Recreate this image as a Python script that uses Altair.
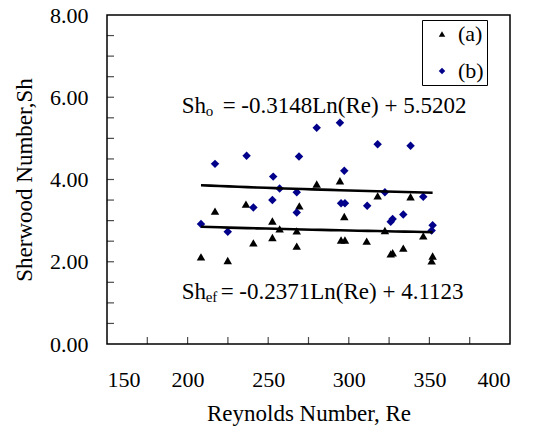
import altair as alt
import pandas as pd

# ---- data ----
re_a = [208.3, 217.0, 224.9, 236.2, 240.8, 252.6, 252.6, 257.1, 267.7, 267.7, 269.3, 280.1, 294.5,
        297.2, 295.2, 297.6, 311.1, 317.9, 322.4, 326.0, 327.2, 333.8, 338.3, 346.2, 352.0, 351.4]
sh_a = [2.12, 3.23, 2.03, 3.40, 2.46, 2.99, 2.59, 2.80, 2.75, 2.38, 3.36, 3.89, 3.97,
        3.10, 2.53, 2.53, 2.50, 3.60, 2.76, 2.19, 2.22, 2.33, 3.58, 2.63, 2.14, 2.02]
re_b = [208.3, 217.0, 224.9, 236.6, 240.8, 253.1, 252.6, 257.1, 267.7, 267.7, 269.1, 280.1, 294.5,
        297.2, 295.2, 297.6, 311.4, 317.9, 322.4, 326.0, 327.2, 333.8, 338.3, 346.2, 352.0, 351.4]
sh_b = [2.92, 4.38, 2.73, 4.58, 3.32, 4.07, 3.50, 3.78, 3.69, 3.20, 4.56, 5.26, 5.38,
        4.21, 3.42, 3.42, 3.36, 4.86, 3.69, 2.97, 3.04, 3.15, 4.82, 3.58, 2.89, 2.76]
series_names = ["(a)", "(b)"]

x_labels = [150, 200, 250, 300, 350, 400]
x_minor = [175, 200, 225, 250, 275, 300, 325, 350, 375]
y_labels = [0, 2, 4, 6, 8]
y_minor = [0.5, 1, 1.5, 2, 2.5, 3, 3.5, 4, 4.5, 5, 5.5, 6, 6.5, 7, 7.5]

eq_o = ["Sh", "o", "= -0.3148Ln(Re) + 5.5202"]
eq_ef = ["Sh", "ef", "= -0.2371Ln(Re) + 4.1123"]

df = pd.DataFrame({
    "Re": re_a + re_b,
    "Sh": sh_a + sh_b,
    "series": [series_names[0]] * len(re_a) + [series_names[1]] * len(re_b),
})
df_xt = pd.DataFrame({"Re": x_minor})
df_yt = pd.DataFrame({"Sh": y_minor})

FONT = "Liberation Serif"
xscale = alt.Scale(domain=[150, 400], nice=False, zero=False)
yscale = alt.Scale(domain=[0, 8], nice=False, zero=False)

XT = "Reynolds Number, Re"
YT = "Sherwood Number,Sh"

base = alt.Chart(df)

points = base.mark_point(filled=True, opacity=1, size=72, strokeWidth=0).encode(
    x=alt.X("Re:Q", scale=xscale, title=XT, axis=alt.Axis(
        values=x_labels, format="d", ticks=False, tickSize=0,
        domain=False, grid=False, labelPadding=25, titlePadding=12)),
    y=alt.Y("Sh:Q", scale=yscale, title=YT, axis=alt.Axis(
        values=y_labels, format=".2f", ticks=False, tickSize=0,
        domain=False, grid=False, labelPadding=19, titlePadding=13)),
    color=alt.Color("series:N", scale=alt.Scale(domain=series_names, range=["#000000", "#00008b"]),
                    legend=alt.Legend(title=None, orient="none", legendX=315, legendY=5,
                                      strokeColor="black", fillColor="white", padding=3,
                                      labelFontSize=22, symbolSize=42, rowPadding=15,
                                      symbolOffset=6, labelOffset=5,
                                      labelExpr="datum.label + ' \u2009'")),
    shape=alt.Shape("series:N", scale=alt.Scale(domain=series_names, range=["triangle-up", "diamond"])),
)

trend = base.transform_regression(
    "Re", "Sh", groupby=["series"], method="log"
).mark_line(color="black", strokeWidth=2.6).encode(
    x=alt.X("Re:Q", scale=xscale, title=XT),
    y=alt.Y("Sh:Q", scale=yscale, title=YT),
    detail="series:N",
)

xticks = alt.Chart(df_xt).mark_tick(orient="vertical", size=7, thickness=1.2, color="black",
                                    yOffset=-3.5).encode(
    x=alt.X("Re:Q", scale=xscale, title=XT),
    y=alt.YDatum(0, title=YT),
)
yticks = alt.Chart(df_yt).mark_tick(orient="horizontal", size=7, thickness=1.2, color="black",
                                    xOffset=3.5).encode(
    y=alt.Y("Sh:Q", scale=yscale, title=YT),
    x=alt.XDatum(150, title=XT),
)


def equation(parts, x0, y0, sub_dx, rest_dx):
    enc = dict(x=alt.XDatum(x0, title=XT), y=alt.YDatum(y0, title=YT))
    main = alt.Chart().mark_text(align="left", baseline="alphabetic", fontSize=23, font=FONT,
                                 color="black", text=parts[0]).encode(**enc)
    sub = alt.Chart().mark_text(align="left", baseline="alphabetic", fontSize=15, font=FONT,
                                color="black", text=parts[1], dx=sub_dx, dy=3).encode(**enc)
    rest = alt.Chart().mark_text(align="left", baseline="alphabetic", fontSize=23, font=FONT,
                                 color="black", text=parts[2], dx=rest_dx).encode(**enc)
    return [main, sub, rest]


texts = equation(eq_o, 196.3, 5.62, 24, 41) + equation(eq_ef, 196.3, 1.09, 24, 39)

chart = alt.layer(points, trend, xticks, yticks, *texts).properties(
    width=403, height=329,
    autosize=alt.AutoSizeParams(type="none"),
    padding={"left": 107, "top": 15, "right": 27, "bottom": 90},
    background="white",
).configure(
    font=FONT,
).configure_view(
    stroke="black", strokeWidth=1.5,
).configure_axis(
    labelFont=FONT, titleFont=FONT, labelFontSize=22, titleFontSize=23,
    labelColor="black", titleColor="black", titleFontWeight="normal",
).configure_legend(
    labelFont=FONT, labelColor="black",
)

chart.save("out.html", embed_options={"renderer": "svg", "actions": False})
